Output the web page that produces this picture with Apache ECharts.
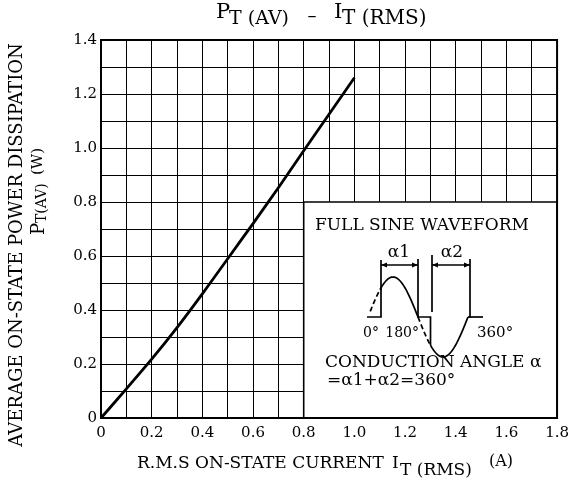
<!DOCTYPE html>
<html>
<head>
<meta charset="utf-8">
<script src="https://cdn.jsdelivr.net/npm/echarts@6/dist/echarts.min.js"></script>
<style>
  html, body { margin: 0; padding: 0; background: #fff; }
  #chart { width: 572px; height: 486px; }
</style>
</head>
<body>
<div id="chart"></div>
<script>
// on-state current (A) vs average power dissipation (W)
const currentA = [0, 0.1, 0.2, 0.3, 0.4, 0.5, 0.6, 0.7, 0.8, 0.9, 1.0];
const powerW = [0, 0.108, 0.218, 0.335, 0.46, 0.59, 0.72, 0.853, 0.99, 1.125, 1.26];

// white inset box in the lower right (data coords)
const insetFrom = [0.8, 0];
const insetTo = [1.8, 0.8];

const FONT = 'DejaVu Serif';

const chart = echarts.init(document.getElementById('chart'), null, {renderer: 'canvas'});

function tenthLabel(v) {
  const n = Math.round(v * 10);
  if (n % 2) return '';
  return n === 0 ? '0' : (n / 10).toFixed(1);
}

// little sine sketch inside the inset (illustration only)
function sinePts(x0, x1, phase0, phase1, base, amp) {
  const pts = [];
  for (let i = 0; i <= 24; i++) {
    const t = i / 24;
    const ph = phase0 + (phase1 - phase0) * t;
    pts.push([x0 + (x1 - x0) * t, base - amp * Math.sin(ph)]);
  }
  return pts;
}
const wx0 = 368, wPeriod = 100, wBase = 317, wAmp = 40;
const xOfDeg = d => wx0 + wPeriod * d / 360;
const seg = (d0, d1) => sinePts(xOfDeg(d0), xOfDeg(d1), d0 * Math.PI / 180, d1 * Math.PI / 180, wBase, wAmp);

const blk = {stroke: '#000', lineWidth: 1.7, fill: null};
const dash = {stroke: '#000', lineWidth: 1.7, fill: null, lineDash: [5, 3]};
const txt = (x, y, text, size, align, vAlign) => ({
  type: 'text', x, y, z: 20,
  style: {text, fill: '#000', font: `${size}px "${FONT}"`, align: align || 'left', verticalAlign: vAlign || 'middle'}
});
const shp = (type, shape, style) => ({type, shape, style, z: 20});
const arrowLine = (xa, xb, y) => ([
  shp('line', {x1: xa, y1: y, x2: xb, y2: y}, blk),
  shp('polygon', {points: [[xa, y], [xa + 6, y - 2.5], [xa + 6, y + 2.5]]}, {fill: '#000'}),
  shp('polygon', {points: [[xb, y], [xb - 6, y - 2.5], [xb - 6, y + 2.5]]}, {fill: '#000'})
]);

const graphics = [
  // title
  txt(216, 13, 'P', 21),
  txt(229, 19, 'T (AV)', 19),
  txt(312, 17, '–', 18, 'center'),
  txt(334, 13, 'I', 21),
  txt(342, 19, 'T (RMS)', 20),
  // x axis name
  txt(137, 464, 'R.M.S ON-STATE CURRENT', 17),
  txt(392, 464, 'I', 17),
  txt(400, 471, 'T (RMS)', 17),
  txt(489, 462, '(A)', 16),
  // y axis name (rotated)
  {
    type: 'group', x: 17, y: 245, rotation: Math.PI / 2,
    children: [
      txt(0, 0, 'AVERAGE ON-STATE POWER DISSIPATION', 18, 'center'),
      txt(10, 22, 'P', 18),
      txt(22, 25, 'T(AV)', 14),
      txt(70, 21, '(W)', 15)
    ]
  },
  // inset contents
  txt(315, 226, 'FULL SINE WAVEFORM', 17),
  txt(399, 253, 'α1', 17, 'center'),
  txt(452, 253, 'α2', 17, 'center'),
  ...arrowLine(381, 418, 265),
  ...arrowLine(432, 470, 265),
  shp('line', {x1: 381, y1: 260, x2: 381, y2: 290}, blk),
  shp('line', {x1: 418, y1: 259, x2: 418, y2: 318}, blk),
  shp('line', {x1: 432, y1: 255, x2: 432, y2: 312}, blk),
  shp('line', {x1: 470, y1: 259, x2: 470, y2: 318}, blk),
  shp('polyline', {points: [[367, wBase], [381, wBase], [381, seg(45, 45)[0][1]]]}, blk),
  shp('polyline', {points: seg(8, 45)}, dash),
  shp('polyline', {points: seg(45, 180)}, blk),
  shp('polyline', {points: seg(180, 225)}, dash),
  shp('polyline', {points: [[418, wBase], [xOfDeg(225), wBase], [xOfDeg(225), seg(225, 225)[0][1]]]}, blk),
  shp('polyline', {points: seg(225, 360)}, blk),
  shp('line', {x1: 468, y1: wBase, x2: 483, y2: wBase}, blk),
  txt(363, 333, '0°', 14),
  txt(419, 333, '180°', 14, 'right'),
  txt(477, 333, '360°', 15),
  txt(325, 363, 'CONDUCTION ANGLE α', 17),
  txt(327, 381, '=α1+α2=360°', 17)
];

chart.setOption({
  animation: false,
  backgroundColor: '#fff',
  grid: {left: 101, right: 14, top: 40, bottom: 68, show: true, borderColor: '#000', borderWidth: 2, z: 5},
  xAxis: {
    type: 'value', min: 0, max: 1.8, interval: 0.1,
    axisLine: {show: false}, axisTick: {show: false},
    axisLabel: {color: '#000', fontFamily: FONT, fontSize: 15, margin: 8, formatter: tenthLabel, showMinLabel: true, showMaxLabel: true},
    splitLine: {show: true, lineStyle: {color: '#000', width: 1}}
  },
  yAxis: {
    type: 'value', min: 0, max: 1.4, interval: 0.1,
    axisLine: {show: false}, axisTick: {show: false},
    axisLabel: {color: '#000', fontFamily: FONT, fontSize: 15, margin: 4, formatter: tenthLabel, showMinLabel: true, showMaxLabel: true},
    splitLine: {show: true, lineStyle: {color: '#000', width: 1}}
  },
  series: [{
    type: 'line',
    data: currentA.map((x, i) => [x, powerW[i]]),
    smooth: 0.3,
    symbol: 'none',
    lineStyle: {color: '#000', width: 2.8},
    z: 3,
    markArea: {
      silent: true,
      itemStyle: {color: '#fff', borderColor: '#000', borderWidth: 1.6},
      data: [[{coord: insetFrom}, {coord: insetTo}]]
    }
  }],
  graphic: graphics
});
</script>
</body>
</html>
